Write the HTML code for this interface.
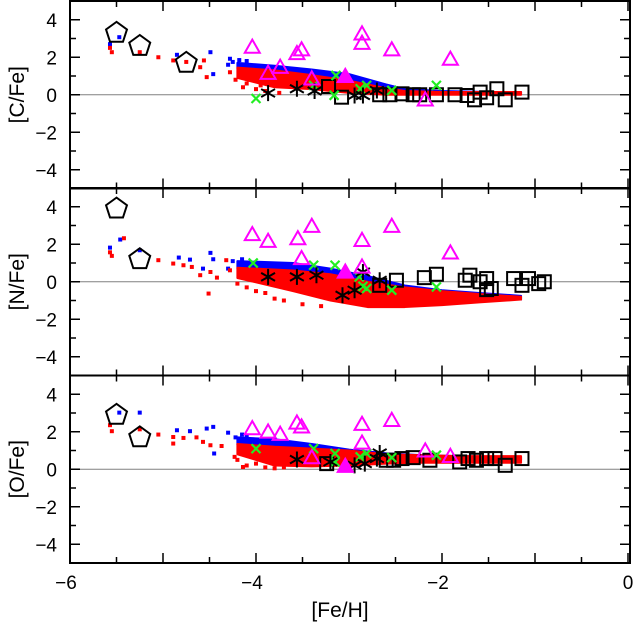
<!DOCTYPE html>
<html><head><meta charset="utf-8">
<style>
html,body{margin:0;padding:0;background:#fff;}
svg{display:block;font-family:"Liberation Sans",sans-serif;}
</style></head>
<body>
<svg id="chart" width="636" height="626" viewBox="0 0 636 626" xmlns="http://www.w3.org/2000/svg">
<g id="layer"></g>
</svg>
<script>
// ---- data (x = [Fe/H], y = [X/Fe]) ----
const panelNames = ["[C/Fe]","[N/Fe]","[O/Fe]"];
const xTickLabels = [-6,-4,-2,0];
const yTickLabels = [4,2,0,-2,-4];

const pentX = [[-5.5,-5.25,-4.75],[-5.5,-5.25],[-5.5,-5.25]];
const pentY = [[3.3,2.6,1.7],[3.9,1.2],[2.9,1.7]];

const triX = [[-4.04,-3.51,-3.56,-2.86,-2.86,-2.54,-1.91,-3.74,-3.87,-3.4,-2.18],
              [-4.04,-3.87,-3.55,-3.4,-3.51,-2.86,-2.54,-1.91,-2.86],
              [-4.04,-3.87,-3.74,-3.56,-3.51,-2.86,-2.54,-2.86,-3.4,-2.18,-1.91]];
const triY = [[2.54,2.4,2.2,3.25,2.75,2.4,1.9,1.47,1.15,0.85,-0.27],
              [2.52,2.16,2.3,2.96,1.24,2.21,2.96,1.54,0.79],
              [2.17,1.99,1.87,2.47,2.26,2.4,2.61,1.4,0.62,0.98,0.69]];
const ftriX = [[-3.04],[-3.04],[-3.04]];
const ftriY = [[0.98],[0.52],[0.16]];

const astX = [[-3.87,-3.56,-3.37,-2.94,-2.85,-2.7],
              [-3.87,-3.56,-3.35,-3.07,-2.94,-2.85,-2.67],
              [-3.56,-2.94,-2.67,-2.7,-3.2,-2.83]];
const astY = [[0.09,0.32,0.2,-0.04,-0.04,0.23],
              [0.26,0.26,0.35,-0.72,-0.45,0.52,0.08],
              [0.52,0.21,0.87,0.57,0.39,0.3]];

const grnX = [[-4.0,-3.14,-3.38,-3.16,-2.88,-2.81,-2.54,-2.06],
              [-4.03,-3.38,-3.15,-2.89,-2.85,-2.81,-2.54,-2.06],
              [-4.0,-3.38,-3.15,-3.15,-2.88,-2.81,-2.54,-2.06]];
const grnY = [[-0.2,1.03,0.5,-0.03,0.32,0.5,0.23,0.5],
              [1.0,0.88,0.88,0.26,-0.24,-0.36,-0.45,-0.28],
              [1.1,1.1,0.84,0.39,0.66,0.84,0.62,0.75]];

const sqX = [[-3.22,-3.08,-2.67,-2.56,-2.43,-2.31,-2.24,-2.06,-1.86,-1.73,-1.65,-1.59,-1.52,-1.41,-1.32,-1.14],
             [-2.67,-2.49,-2.19,-2.06,-1.75,-1.7,-1.59,-1.52,-1.52,-1.47,-1.23,-1.14,-1.07,-0.96,-0.9],
             [-3.24,-2.6,-2.52,-2.43,-2.31,-2.13,-1.81,-1.72,-1.63,-1.52,-1.43,-1.32,-1.14]];
const sqY = [[0.44,-0.13,0.0,0.0,0.05,0.0,0.0,0.0,0.0,-0.04,-0.27,0.14,-0.16,0.32,-0.27,0.14],
             [-0.19,0.08,0.22,0.4,0.08,0.35,0.0,0.17,-0.42,-0.36,0.17,-0.19,0.17,-0.1,0.0],
             [0.3,0.48,0.48,0.57,0.62,0.48,0.39,0.57,0.48,0.57,0.57,0.21,0.57]];

const bandX = [[-4.2,-3.8,-3.4,-3.0,-2.6,-2.4,-2.0,-1.5,-1.15],
               [-4.2,-3.6,-3.2,-2.8,-2.4,-2.0,-1.6,-1.15],
               [-4.2,-3.8,-3.4,-3.0,-2.6,-2.2,-1.8,-1.15]];
const blueHi = [[1.7,1.55,1.35,1.1,0.55,0.3,0.2,0.15,0.15],
                [1.1,1.0,0.7,0.3,-0.2,-0.45,-0.6,-0.75],
                [1.7,1.6,1.35,1.05,0.85,0.75,0.7,0.65]];
const blueLo = [[1.4,1.1,0.9,0.6,0.2,0.1,0.05,0.05,0.05],
                [0.7,0.3,0.0,-0.3,-0.6,-0.8,-0.9,-0.95],
                [1.3,0.9,0.8,0.7,0.6,0.55,0.5,0.5]];
const redHi = [[1.45,1.3,1.05,0.75,0.35,0.2,0.15,0.15,0.15],
               [0.75,0.6,0.4,0.0,-0.3,-0.5,-0.65,-0.8],
               [1.35,1.2,1.1,1.0,0.8,0.75,0.7,0.7]];
const redLo = [[0.9,0.4,0.3,0.1,0.0,0.0,0.0,0.0,0.0],
               [0.2,-0.5,-1.0,-1.35,-1.35,-1.25,-1.1,-0.95],
               [0.8,0.2,0.15,0.2,0.3,0.35,0.35,0.35]];

const sBlueX = [[-5.57,-5.47,-4.85,-4.49,-4.46,-4.28,-4.25,-4.18,-4.1,-4.3],
                [-5.57,-5.46,-5.25,-4.49,-4.83,-4.71,-4.57,-4.46,-4.3,-4.25,-4.15,-4.1],
                [-5.47,-5.25,-4.85,-4.71,-4.53,-4.46,-4.45,-4.3,-4.22,-4.15,-4.1]];
const sBlueY = [[2.7,3.07,2.13,2.27,1.1,1.92,1.75,1.85,1.8,1.6],
                [1.82,2.25,1.68,1.54,1.29,1.18,0.7,1.2,0.7,1.1,1.2,0.9],
                [3.02,3.02,2.08,2.03,2.17,2.26,0.84,1.95,1.7,1.85,1.75]];
const sRedX = [[-5.57,-5.55,-5.25,-5.05,-4.89,-4.53,-4.6,-4.75,-4.56,-4.14,-4.28,-4.22,-4.1,-4.0,-3.9,-3.95,-3.75],
               [-5.57,-5.55,-5.42,-5.05,-4.51,-4.89,-4.78,-4.69,-4.49,-4.42,-4.6,-4.32,-4.28,-4.2,-4.1,-4.0,-3.9,-3.8,-3.7,-3.5,-3.3],
               [-5.57,-5.55,-5.25,-5.05,-4.89,-4.78,-4.64,-4.49,-4.57,-4.89,-4.37,-4.14,-4.23,-4.2,-4.1,-4.0,-3.9,-3.8,-3.7]];
const sRedY = [[2.5,2.27,2.27,2.0,1.83,0.94,1.47,1.75,1.83,0.4,1.2,0.8,0.6,0.3,0.2,0.5,0.1],
               [1.57,1.38,2.32,1.15,-0.63,0.97,0.88,0.79,0.52,0.22,0.35,1.15,0.61,-0.1,-0.3,-0.5,-0.6,-0.9,-1.0,-1.2,-1.3],
               [2.35,2.03,2.13,1.85,1.72,1.67,1.7,1.28,1.46,1.37,1.24,0.12,0.66,0.5,0.2,0.3,0.1,0.05,0.1]];

// ---- geometry ----
const NS="http://www.w3.org/2000/svg";
const L=70, R=630, panelTop=[1,188,375.5], panelH=187.5;
function X(v){return 628+93*v;}
function Y(p,v){return panelTop[p]+panelH/2 - 18.75*v;}
const layer=document.getElementById('layer');
function mk(tag,attrs,parent){const e=document.createElementNS(NS,tag);for(const k in attrs)e.setAttribute(k,attrs[k]);(parent||layer).appendChild(e);return e;}

for(let p=0;p<3;p++){
  const g=mk('g',{});
  
  
  const top=panelTop[p], bot=top+panelH;
  const zl=mk('line',{x1:L,x2:R,y1:Y(p,0),y2:Y(p,0),stroke:'#808080','stroke-width':1},g);
  
  
  function band(hi,lo,col,name){
    let pts=[];
    for(let i=0;i<bandX[p].length;i++)pts.push(X(bandX[p][i])+','+Y(p,hi[p][i]));
    for(let i=bandX[p].length-1;i>=0;i--)pts.push(X(bandX[p][i])+','+Y(p,lo[p][i]));
    const e=mk('polygon',{points:pts.join(' '),fill:col,stroke:col,'stroke-width':2,'stroke-linejoin':'round'},g);
    
    
  }
  band(blueHi,blueLo,'#0000ff','model-blue-band');
  band(redHi,redLo,'#ff0000','model-red-band');
  for(let i=0;i<sBlueX[p].length;i++){
    const e=mk('rect',{x:X(sBlueX[p][i])-2,y:Y(p,sBlueY[p][i])-2,width:4,height:4,fill:'#0000ff'},g);
    
    
  }
  for(let i=0;i<sRedX[p].length;i++){
    const e=mk('rect',{x:X(sRedX[p][i])-2,y:Y(p,sRedY[p][i])-2,width:4,height:4,fill:'#ff0000'},g);
    
    
  }
  for(let i=0;i<pentX[p].length;i++){
    const cx=X(pentX[p][i]), cy=Y(p,pentY[p][i]), r=11; let pts=[];
    for(let k=0;k<5;k++){const a=Math.PI/2+k*2*Math.PI/5;pts.push((cx+r*Math.cos(a))+','+(cy-r*Math.sin(a)));}
    const e=mk('polygon',{points:pts.join(' '),fill:'none',stroke:'#000','stroke-width':2},g);
    
    
  }
  for(let i=0;i<sqX[p].length;i++){
    const e=mk('rect',{x:X(sqX[p][i])-6.5,y:Y(p,sqY[p][i])-6.5,width:13,height:13,fill:'none',stroke:'#000','stroke-width':2},g);
    
    
  }
  for(let i=0;i<grnX[p].length;i++){
    const cx=X(grnX[p][i]), cy=Y(p,grnY[p][i]), s=4.5;
    const e=mk('path',{d:`M${cx-s},${cy-s}L${cx+s},${cy+s}M${cx-s},${cy+s}L${cx+s},${cy-s}`,stroke:'#22ee22','stroke-width':2.2,fill:'none'},g);
    
    
  }
  for(let i=0;i<astX[p].length;i++){
    const cx=X(astX[p][i]), cy=Y(p,astY[p][i]), r=8; let d='';
    for(let k=0;k<3;k++){const a=Math.PI/2+k*Math.PI/3;d+=`M${cx+r*Math.cos(a)},${cy-r*Math.sin(a)}L${cx-r*Math.cos(a)},${cy+r*Math.sin(a)}`;}
    const e=mk('path',{d:d,stroke:'#000','stroke-width':2,fill:'none'},g);
    
    
  }
  function tri(cx,cy,filled){
    const s=7.5;
    return mk('polygon',{points:`${cx},${cy-s} ${cx+s},${cy+s*0.75} ${cx-s},${cy+s*0.75}`,fill:filled?'#ff00ff':'none',stroke:'#ff00ff','stroke-width':2},g);
  }
  for(let i=0;i<triX[p].length;i++){
    const e=tri(X(triX[p][i]),Y(p,triY[p][i]),false);
    
    
  }
  for(let i=0;i<ftriX[p].length;i++){
    const e=tri(X(ftriX[p][i]),Y(p,ftriY[p][i]),true);
    
    
  }
  let d='';
  for(let v=-6;v<=0.001;v+=0.5){
    const x=X(v), len=(Math.abs(v-Math.round(v))<0.01)?10:6;
    d+=`M${x},${top}v${len}M${x},${bot}v${-len}`;
  }
  for(let v=-4;v<=4;v++){
    const y=Y(p,v), len=(v%2===0)?10:6;
    d+=`M${L},${y}h${len}M${R},${y}h${-len}`;
  }
  const t=mk('path',{d:d,stroke:'#000','stroke-width':1.5,fill:'none'},g);
  
  
  const f=mk('rect',{x:L,y:top,width:R-L,height:panelH,fill:'none',stroke:'#000','stroke-width':2},g);
  
  
  for(let i=0;i<yTickLabels.length;i++){
    const v=yTickLabels[i];
    const e=mk('text',{x:57,y:Y(p,v)+7,'text-anchor':'end','font-size':19,fill:'#000'},g);
    e.textContent=(v<0?'\u2212':'')+Math.abs(v);
    
    
  }
  const yc=top+panelH/2;
  const yt=mk('text',{x:0,y:0,'text-anchor':'middle','font-size':21,fill:'#000',transform:`translate(24,${yc}) rotate(-90)`},g);
  yt.textContent=panelNames[p];
  
  
}
for(let i=0;i<xTickLabels.length;i++){
  const v=xTickLabels[i];
  const e=mk('text',{x:X(v)-(v<0?4:0),y:589,'text-anchor':'middle','font-size':19,fill:'#000'});
  e.textContent=(v<0?'\u2212':'')+Math.abs(v);
  
  
}
const xt=mk('text',{x:340,y:617,'text-anchor':'middle','font-size':21,fill:'#000'});
xt.textContent='[Fe/H]';


</script>
</body></html>
